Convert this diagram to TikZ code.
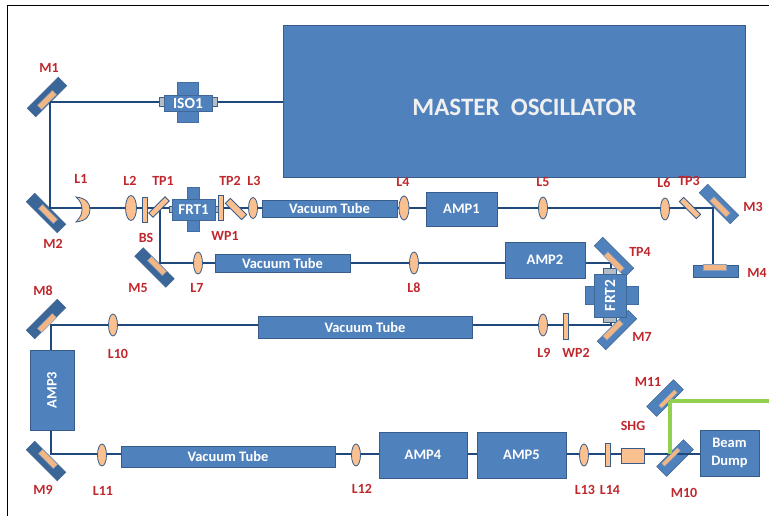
\documentclass[tikz,border=0pt]{standalone}
\usepackage{fontspec}
\setmainfont{Carlito}
\usepackage{xcolor}
\usetikzlibrary{shapes.geometric, backgrounds}
\definecolor{boxblue}{HTML}{4F81BD}
\definecolor{edgeblue}{HTML}{385D8A}
\definecolor{darkmirror}{HTML}{3B6798}
\definecolor{beamblue}{HTML}{1F497D}
\definecolor{lensorange}{HTML}{FAC090}
\definecolor{labelred}{HTML}{C0272D}
\definecolor{greenbeam}{HTML}{92D050}
\definecolor{capgray}{HTML}{B4BCC6}

\begin{document}
\begin{tikzpicture}[
  x=1pt, y=-1pt,
  box/.style={rectangle, draw=edgeblue, line width=0.8pt, fill=boxblue, inner sep=0pt, text=white, align=center, font=\fontsize{14.5}{15}\selectfont\bfseries},
  arm/.style={box, draw=boxblue!85!black},
  endcap/.style={rectangle, draw=edgeblue, line width=0.8pt, fill=capgray, inner sep=0pt},
  mirror/.style={rectangle, draw=edgeblue, line width=0.5pt, fill=darkmirror, minimum width=44pt, minimum height=12pt, inner sep=0pt},
  mirrorlt/.style={mirror, fill=boxblue},
  mirrorsm/.style={mirrorlt, minimum width=38pt, minimum height=14pt},
  strip/.style={rectangle, draw=edgeblue!60, line width=0.4pt, fill=lensorange!85!brown, minimum width=21pt, minimum height=6pt, inner sep=0pt},
  thinstrip/.style={strip, minimum width=22pt, minimum height=4pt},
  lens/.style={ellipse, draw=edgeblue, line width=0.8pt, fill=lensorange, minimum width=9pt, minimum height=22pt, inner sep=0pt},
  plate/.style={rectangle, draw=edgeblue, line width=0.8pt, fill=lensorange, minimum width=5.5pt, minimum height=25pt, inner sep=0pt},
  beam/.style={draw=beamblue, line width=1.6pt},
  lbl/.style={font=\fontsize{14}{14}\selectfont\bfseries, text=labelred, inner sep=0pt},
]
\useasboundingbox (0,0) rectangle (769,516);
\coordinate (framea) at (7,516);
\coordinate (frameb) at (7,5);
\coordinate (framec) at (769,5);
\draw[black, line width=0.9pt] (framea) -- (frameb) -- (framec);

% main boxes
\node[box, minimum width=462pt, minimum height=152pt] (mo) at (514,101) {};
\node[font=\fontsize{25}{26}\selectfont\bfseries, text=black!6, inner sep=0pt] (motext) at (524.5,107) {MASTER\ \ OSCILLATOR};

% isolator
\node[endcap, minimum width=5pt, minimum height=9pt] (isocapl) at (162,102) {};
\node[endcap, minimum width=5pt, minimum height=9pt] (isocapr) at (214.5,102) {};
\node[arm, minimum width=21pt, minimum height=40pt] (isoarm) at (188,102) {};
\node[box, draw=boxblue!80!black, font=\fontsize{15.5}{16}\selectfont\bfseries, minimum width=48pt, minimum height=16pt] (iso1) at (188,103) {ISO1};

% first line
\node[plate] (l2plate) at (145,209.5) {};
\node[plate, rotate=45, minimum width=23pt, minimum height=6pt] (tp1) at (159,207) {};
\node[endcap, minimum width=3pt, minimum height=6pt] (frtcapl) at (170.5,209) {};
\node[endcap, minimum width=3pt, minimum height=6pt] (frtcapr) at (216.5,209) {};
\node[arm, minimum width=12pt, minimum height=44pt] (frtarm) at (193,209) {};
\node[box, draw=boxblue!80!black, font=\fontsize{15}{16}\selectfont\bfseries, minimum width=43pt, minimum height=21pt] (frt1) at (193.5,209.5) {FRT1};
\node[plate] (wp1) at (221,208) {};
\node[plate, rotate=-45, minimum width=23pt, minimum height=7pt] (tp2) at (236,209) {};
\node[lens, minimum width=11pt, minimum height=25pt] (l2) at (131,208) {};
\node[lens, minimum height=21pt] (l3) at (253,208) {};
\node[box, minimum width=135pt, minimum height=17pt] (vt1) at (329.5,208.5) {Vacuum Tube};
\node[lens, minimum width=10pt, minimum height=24pt] (l4) at (404,208) {};
\node[box, minimum width=71pt, minimum height=34pt] (amp1) at (461.5,209) {AMP1};
\node[lens] (l5) at (543,208) {};
\node[lens] (l6) at (665,209) {};
\node[plate, rotate=-45, minimum width=24pt, minimum height=6pt] (tp3) at (690,208) {};

% second line
\node[lens] (l7) at (198,263) {};
\node[box, minimum width=135pt, minimum height=18pt] (vt2) at (282.5,263) {Vacuum Tube};
\node[lens] (l8) at (414,263) {};
\node[box, minimum width=80pt, minimum height=36pt] (amp2) at (545,260) {AMP2};
\node[endcap, minimum width=13pt, minimum height=6pt] (frt2capt) at (609.5,271) {};
\node[endcap, minimum width=13pt, minimum height=6pt] (frt2capb) at (609.5,319.5) {};
\node[arm, minimum width=53pt, minimum height=18pt] (frt2arm) at (611.5,295) {};
\node[box, draw=boxblue!80!black, font=\fontsize{15.5}{16}\selectfont\bfseries, minimum width=32pt, minimum height=43pt] (frt2) at (610,295.5) {\rotatebox{90}{FRT2}};

% third line
\node[lens] (l10) at (113,325) {};
\node[box, minimum width=214pt, minimum height=22pt] (vt3) at (365,327) {Vacuum Tube};
\node[lens] (l9) at (543,325) {};
\node[plate, minimum height=26pt] (wp2) at (566,326) {};
\node[box, minimum width=44pt, minimum height=80pt] (amp3) at (52,390) {\rotatebox{90}{AMP3}};

% fourth line
\node[lens] (l11) at (102,455) {};
\node[box, minimum width=214pt, minimum height=21pt] (vt4) at (228,456.5) {Vacuum Tube};
\node[lens] (l12) at (356,455) {};
\node[box, minimum width=88pt, minimum height=46pt] (amp4) at (423,455) {AMP4};
\node[box, minimum width=89pt, minimum height=46pt] (amp5) at (521.5,455) {AMP5};
\node[lens] (l13) at (584,455) {};
\node[plate, minimum width=5pt, minimum height=23pt] (l14) at (607.5,454.5) {};
\node[box, fill=lensorange, minimum width=23pt, minimum height=15pt] (shg) at (632.5,455.5) {};
\node[box, minimum width=59pt, minimum height=46pt] (dump) at (729.5,453) {Beam\\[3pt]Dump};

% meniscus lens
\coordinate (l1top) at (76,197);
\coordinate (l1bot) at (76,222);
\draw[draw=edgeblue, line width=0.8pt, fill=lensorange] (l1top) .. controls (86,198) and (90,203) .. (90,209.5) .. controls (90,216) and (86,221) .. (l1bot) .. controls (81,217) and (82,213) .. (82,209.5) .. controls (82,206) and (81,201) .. (l1top) -- cycle;

% mirror faces
\node[strip, rotate=45] (m1s) at (47,100) {};
\node[strip, rotate=-45] (m2s) at (48,214) {};
\node[strip, rotate=-45, minimum width=23pt] (m3s) at (720,207) {};
\node[strip, minimum width=23pt] (m4s) at (714.5,267) {};
\node[strip, rotate=-45] (m5s) at (157,266) {};
\node[strip, rotate=-45, minimum width=23pt] (tp4s) at (614,262) {};
\node[strip, rotate=45, minimum width=23pt] (m7s) at (613,330) {};
\node[strip, rotate=45] (m8s) at (47,323) {};
\node[strip, rotate=-45] (m9s) at (48,459) {};
\node[thinstrip, rotate=45] (m10s) at (671,457) {};
\node[thinstrip, rotate=45] (m11s) at (668,399) {};

% mirror bodies and beams
\begin{scope}[on background layer]
\node[mirror, rotate=45] (m1) at (47,97) {};
\node[mirror, rotate=-45] (m2) at (46,213) {};
\node[mirrorlt, rotate=-45] (m3) at (719,204) {};
\node[mirrorlt, minimum width=45pt] (m4) at (715.5,271) {};
\node[mirror, rotate=-45] (m5) at (154.5,267.5) {};
\node[mirrorlt, rotate=-45] (tp4) at (614,257) {};
\node[mirrorlt, rotate=45] (m7) at (617,330) {};
\node[mirror, rotate=45] (m8) at (46,319) {};
\node[mirror, rotate=-45] (m9) at (46,461) {};
\node[mirrorsm, rotate=45] (m10) at (675,458) {};
\node[mirrorsm, rotate=45] (m11) at (665,398) {};

\coordinate (m1hit) at (50,102);
\coordinate (m2hit) at (50,208);
\coordinate (m3hit) at (713,208);
\coordinate (m4hit) at (713,266);
\coordinate (m5hit) at (160,263);
\coordinate (tp4hit) at (611,263);
\coordinate (m7hit) at (611,325);
\coordinate (m8hit) at (51,325);
\coordinate (m9hit) at (51,454);
\coordinate (m10hit) at (670,454);
\coordinate (m11hit) at (670,401);
\coordinate (greenend) at (769,401);

\draw[beam] (mo.west |- m1hit) -- (m1hit) -- (m2hit) -- (m3hit) -- (m4hit);
\draw[beam] (m5hit |- tp1) -- (m5hit) -- (tp4hit) -- (m7hit) -- (m8hit) -- (m9hit) -- (m9hit -| dump.west);
\draw[draw=greenbeam, line width=4pt] (m10hit) -- (m11hit) -- (greenend);
\end{scope}

% labels
\node[lbl] (lm1) at (49,68) {M1};
\node[lbl] (lm2) at (53,244) {M2};
\node[lbl] (ll1) at (81,179) {L1};
\node[lbl] (ll2) at (130,181) {L2};
\node[lbl] (ltp1) at (163,181) {TP1};
\node[lbl] (ltp2) at (230,181) {TP2};
\node[lbl] (ll3) at (254,181) {L3};
\node[lbl] (lwp1) at (225,236) {WP1};
\node[lbl] (lbs) at (146,238) {BS};
\node[lbl] (ll4) at (403,182) {L4};
\node[lbl] (ll5) at (543,182) {L5};
\node[lbl] (ll6) at (664,183) {L6};
\node[lbl] (ltp3) at (689,181) {TP3};
\node[lbl] (lm3) at (753,207) {M3};
\node[lbl] (lm4) at (757,273) {M4};
\node[lbl] (ltp4) at (640,252) {TP4};
\node[lbl] (lm7) at (642,337) {M7};
\node[lbl] (ll9) at (544,353) {L9};
\node[lbl] (lwp2) at (576,353) {WP2};
\node[lbl] (ll7) at (197,288) {L7};
\node[lbl] (ll8) at (414,288) {L8};
\node[lbl] (lm5) at (138,288) {M5};
\node[lbl] (lm8) at (43,291) {M8};
\node[lbl] (ll10) at (118,354) {L10};
\node[lbl] (lm9) at (43,490) {M9};
\node[lbl] (ll11) at (103,491) {L11};
\node[lbl] (ll12) at (362,489) {L12};
\node[lbl] (ll13) at (585,490) {L13};
\node[lbl] (ll14) at (610,490) {L14};
\node[lbl] (lshg) at (633,426) {SHG};
\node[lbl] (lm11) at (648,382) {M11};
\node[lbl] (lm10) at (684,493) {M10};
\end{tikzpicture}
\end{document}
